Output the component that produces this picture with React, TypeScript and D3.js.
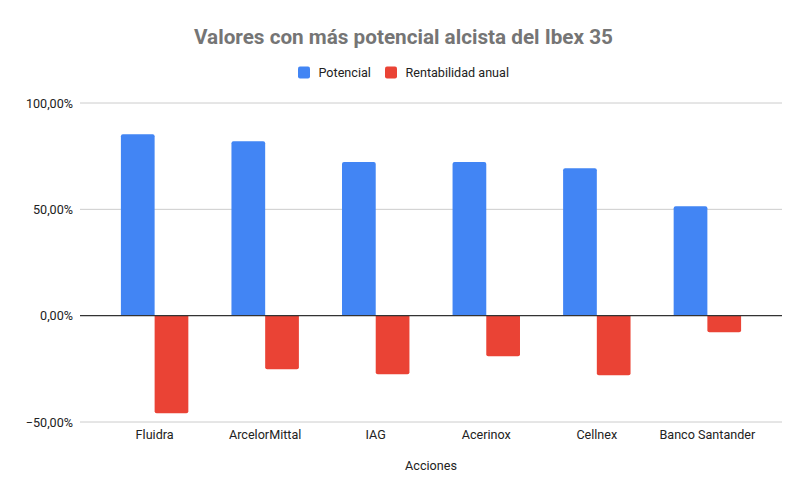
import * as d3 from 'd3';

const categories = ['Fluidra', 'ArcelorMittal', 'IAG', 'Acerinox', 'Cellnex', 'Banco Santander'];
const potencial = [0.853, 0.82, 0.722, 0.722, 0.693, 0.515];
const rentabilidad = [-0.459, -0.252, -0.275, -0.191, -0.28, -0.078];
const seriesNames = ['Potencial', 'Rentabilidad anual'];
const seriesColors = ['#4285F4', '#EA4335'];
const yTicks = [-0.5, 0, 0.5, 1];

const W = 807;
const H = 499;
const left = 80;
const right = 782;
const font = 'Roboto, Arial, sans-serif';
const fs = 12.6;

// bar with rounded corners only on the far end
function barPath(x: number, w: number, y0: number, y1: number, r: number) {
  const h = Math.abs(y1 - y0);
  r = Math.min(r, h / 2, w / 2);
  if (y1 < y0) {
    return `M${x},${y0}V${y1 + r}Q${x},${y1} ${x + r},${y1}H${x + w - r}Q${x + w},${y1} ${x + w},${y1 + r}V${y0}Z`;
  }
  return `M${x},${y0}V${y1 - r}Q${x},${y1} ${x + r},${y1}H${x + w - r}Q${x + w},${y1} ${x + w},${y1 - r}V${y0}Z`;
}

export default function App() {
  const y = d3.scaleLinear().domain([-0.5, 1]).range([422, 103]);
  const x0 = d3.scaleBand().domain(categories).range([left, right]).paddingInner(0.39).paddingOuter(0.37);
  const x1 = d3.scaleBand().domain(seriesNames).range([0, x0.bandwidth()]);
  const fmt = (v: number) => d3.format('.2f')(v * 100).replace('.', ',') + '%';

  const rows = categories.map((c, i) => ({ c, vals: [potencial[i], rentabilidad[i]] }));

  return (
    <svg width={W} height={H} style={{ position: 'absolute', left: 0, top: 0, background: '#fff' }}>
      <rect width={W} height={H} fill="#fff" />
      <text x={403.5} y={44} textAnchor="middle" fontFamily={font} fontWeight="bold" fontSize={20.7} fill="#757575">
        Valores con más potencial alcista del Ibex 35
      </text>

      {/* legend */}
      <g fontFamily={font} fontSize={fs} fill="#222">
        <rect x={298} y={66.5} width={12} height={12} rx={2} fill={seriesColors[0]} />
        <text x={318.5} y={77}>{seriesNames[0]}</text>
        <rect x={385} y={66.5} width={12} height={12} rx={2} fill={seriesColors[1]} />
        <text x={405.5} y={77}>{seriesNames[1]}</text>
      </g>

      {/* gridlines + y labels */}
      {yTicks.map((t) => (
        <g key={t}>
          {t !== 0 && <line x1={left} x2={right} y1={y(t)} y2={y(t)} stroke="#cccccc" strokeWidth={1} />}
          <text x={73} y={y(t) + 4.5} textAnchor="end" fontFamily={font} fontSize={fs} fill="#222">
            {fmt(t)}
          </text>
        </g>
      ))}

      {/* bars */}
      {rows.map((r) => (
        <g key={r.c} transform={`translate(${x0(r.c)},0)`}>
          {r.vals.map((v, j) => (
            <path
              key={j}
              d={barPath(x1(seriesNames[j])!, x1.bandwidth(), y(0), y(v), 2)}
              fill={seriesColors[j]}
            />
          ))}
        </g>
      ))}

      <line x1={left} x2={right} y1={y(0)} y2={y(0)} stroke="#333333" strokeWidth={1.2} />

      {/* x labels */}
      {categories.map((c) => (
        <text key={c} x={x0(c)! + x0.bandwidth() / 2} y={438.5} textAnchor="middle" fontFamily={font} fontSize={fs} fill="#222">
          {c}
        </text>
      ))}
      <text x={(left + right) / 2} y={470} textAnchor="middle" fontFamily={font} fontSize={fs} fill="#222">
        Acciones
      </text>
    </svg>
  );
}
